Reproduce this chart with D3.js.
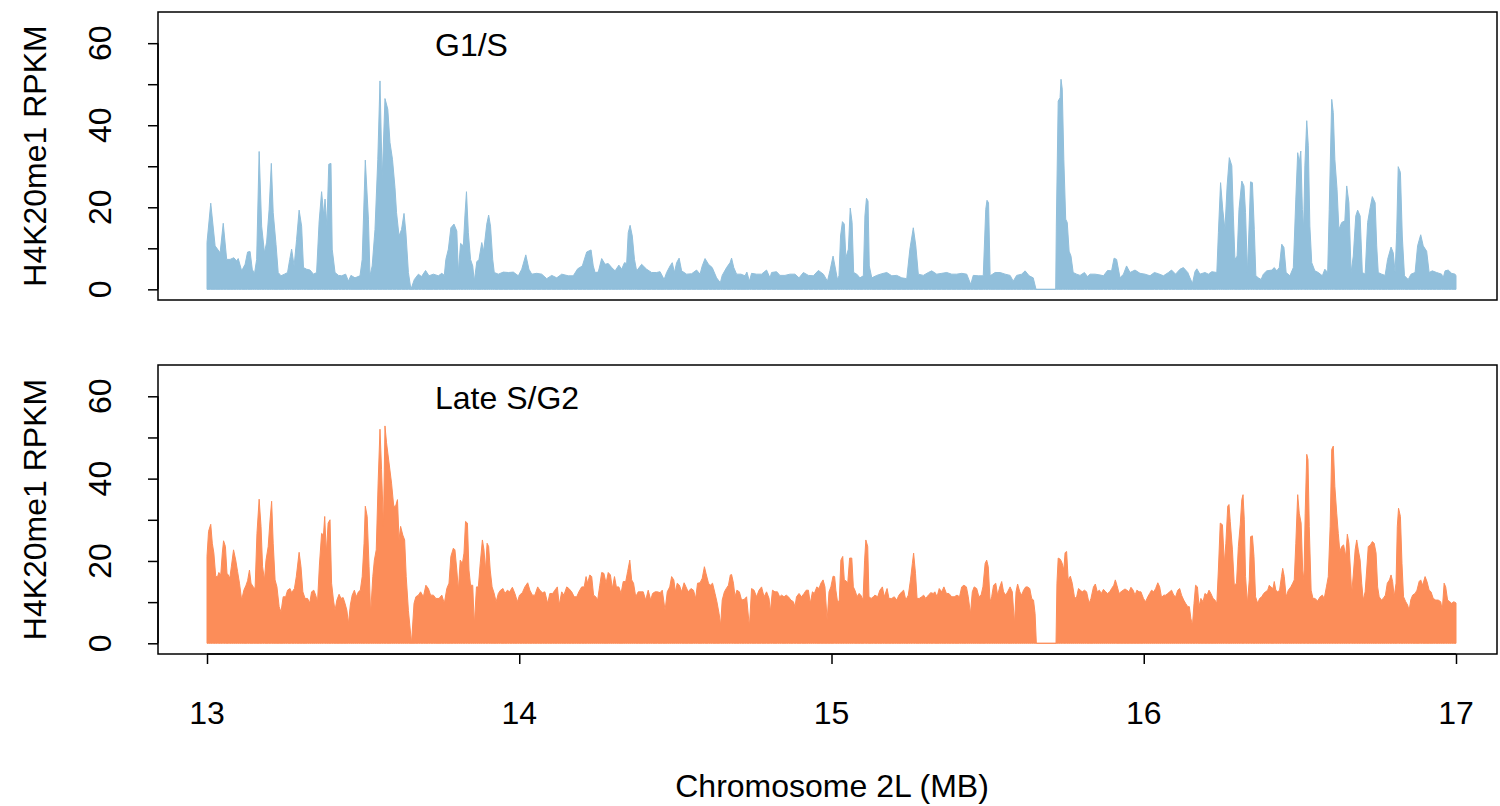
<!DOCTYPE html>
<html>
<head>
<meta charset="utf-8">
<script src="https://cdn.jsdelivr.net/npm/d3@7"></script>
<style>
  body { margin: 0; background: #fff; }
  svg text { font-family: "Liberation Sans", Arial, sans-serif; fill: #000; }
</style>
</head>
<body>
<div id="chart"></div>
<script>
// positions in MB, values in RPKM
const g1sPos = [13.000,13.012,13.026,13.042,13.052,13.063,13.074,13.086,13.095,13.100,13.111,13.122,13.130,13.138,13.145,13.152,13.159,13.167,13.175,13.184,13.191,13.199,13.206,13.212,13.221,13.228,13.237,13.248,13.258,13.265,13.271,13.279,13.287,13.295,13.303,13.309,13.319,13.330,13.341,13.351,13.359,13.367,13.374,13.378,13.384,13.390,13.397,13.401,13.410,13.421,13.431,13.444,13.453,13.461,13.474,13.490,13.497,13.507,13.517,13.522,13.529,13.538,13.547,13.554,13.561,13.570,13.579,13.586,13.594,13.602,13.607,13.615,13.623,13.631,13.637,13.645,13.653,
  13.664,13.677,13.687,13.700,13.711,13.725,13.741,13.752,13.760,13.765,13.773,13.781,13.791,13.800,13.805,13.812,13.821,13.826,13.831,13.837,13.844,13.851,13.856,13.864,13.871,13.880,13.886,13.896,13.902,13.908,13.915,13.920,13.933,13.949,13.965,13.981,13.997,14.008,14.021,14.031,14.040,14.056,14.072,14.088,14.104,14.120,14.136,14.157,14.173,14.187,14.202,14.216,14.230,14.237,14.243,14.253,14.264,14.275,14.285,14.296,14.307,
  14.319,14.328,14.337,14.344,14.349,14.355,14.362,14.369,14.376,14.392,14.408,14.424,14.440,14.451,14.464,14.472,14.483,14.490,14.497,14.504,14.512,14.520,14.536,14.552,14.568,14.579,14.586,14.595,14.606,14.618,14.632,14.644,14.650,14.664,14.675,14.680,14.687,14.696,14.710,14.723,14.729,14.737,14.744,14.760,14.776,14.792,14.803,14.808,14.824,14.835,14.851,14.867,14.883,14.896,14.910,14.926,14.942,14.958,14.974,14.987,14.995,
  15.005,15.011,15.019,15.024,15.029,15.035,15.041,15.046,15.054,15.060,15.066,15.071,15.081,15.091,15.102,15.107,15.112,15.117,15.121,15.129,15.145,15.161,15.177,15.193,15.209,15.225,15.241,15.251,15.262,15.270,15.278,15.294,15.310,15.321,15.337,15.353,15.369,15.385,15.401,15.417,15.433,15.446,15.454,15.470,15.486,15.494,15.498,15.503,15.508,15.524,15.540,15.556,15.572,15.582,15.593,15.609,15.620,15.633,15.646,15.655,15.718,
  15.720,15.726,15.732,15.735,15.739,15.744,15.750,15.755,15.761,15.767,15.774,15.785,15.796,15.810,15.820,15.828,15.844,15.860,15.871,15.884,15.897,15.905,15.913,15.924,15.935,15.945,15.956,15.972,15.988,16.004,16.020,16.034,16.047,16.063,16.079,16.089,16.102,16.116,16.127,16.141,16.148,16.156,16.164,16.170,16.180,16.196,16.207,16.218,16.234,16.239,16.246,16.253,16.260,16.267,16.274,16.282,16.287,16.292,16.299,16.305,16.314,16.321,16.326,16.332,16.338,
  16.342,16.348,16.354,16.359,16.367,16.376,16.383,16.394,16.410,16.418,16.426,16.434,16.442,16.449,16.456,16.468,16.479,16.487,16.493,16.498,16.503,16.508,16.512,16.516,16.522,16.527,16.532,16.538,16.548,16.559,16.572,16.580,16.589,16.594,16.602,16.607,16.612,16.619,16.625,16.634,16.644,16.650,16.657,16.664,16.671,16.679,16.685,16.693,16.700,16.709,16.717,16.725,16.732,16.741,16.746,16.751,16.762,16.773,16.781,16.792,16.799,16.805,16.810,16.815,16.822,16.828,16.835,16.847,16.856,16.869,16.877,16.887,16.895,16.906,16.914,16.924,16.938,16.954,16.959,16.965,16.975,16.986,16.997,17.000];
const g1sVal = [11.4,21.0,10.6,8.9,16.1,7.3,7.3,7.7,6.9,7.5,4.5,6.1,9.1,9.2,4.9,3.8,7.3,33.6,15.4,8.9,11.5,19.5,30.7,18.7,11.0,4.1,3.3,3.7,4.1,7.3,9.8,5.7,12.2,19.3,15.4,5.3,4.9,4.7,3.7,4.1,16.4,23.8,17.9,22.0,15.4,30.5,30.7,9.8,4.1,3.4,3.3,3.7,2.0,3.4,2.8,3.3,7.3,31.5,17.1,3.3,5.7,14.6,31.7,50.8,26.8,46.5,43.9,35.8,31.7,24.8,18.7,13.0,14.6,18.5,13.8,4.1,0,
  2.4,3.7,3.1,4.6,3.3,3.7,3.3,3.9,3.4,7.3,9.8,15.0,15.9,14.2,4.1,11.2,10.6,17.9,23.8,13.8,7.3,5.7,2.0,6.7,7.3,11.4,9.3,15.9,18.1,15.4,7.3,4.1,3.7,4.2,4.1,4.2,3.3,4.9,8.4,4.9,3.7,3.9,3.7,2.6,3.4,2.8,3.7,3.3,3.3,5.0,5.7,9.1,9.6,5.7,4.1,4.2,7.5,6.1,6.3,5.3,4.5,
  5.9,4.9,6.5,6.3,13.8,15.6,13.0,7.3,4.5,6.1,4.9,4.1,4.1,4.3,2.4,4.1,5.7,6.5,4.1,6.5,7.6,4.5,3.7,3.8,4.7,3.7,5.7,7.5,6.1,5.3,2.8,1.6,3.4,5.3,6.5,7.6,5.3,3.7,3.7,3.3,4.2,2.0,3.9,3.7,3.7,4.7,2.8,4.1,4.3,3.4,3.4,3.7,3.7,2.8,4.1,3.4,3.3,4.6,3.7,2.0,4.5,
  8.1,5.7,2.4,3.3,13.0,16.5,15.9,7.7,9.8,19.8,16.3,4.1,3.7,2.8,3.3,17.9,22.2,21.5,5.7,2.8,3.4,3.8,4.1,3.3,3.4,2.8,2.6,9.8,15.0,10.6,3.7,3.4,4.1,4.5,3.7,3.9,4.1,3.7,3.7,3.9,3.7,1.2,3.4,3.3,3.3,19.5,21.7,21.1,3.3,4.1,4.1,3.7,3.4,2.0,3.4,3.7,4.5,3.3,2.8,0,0,
  15.4,45.9,46.7,51.2,48.8,31.7,17.1,16.3,9.3,8.1,4.1,3.7,3.4,4.1,3.1,3.7,3.7,3.5,3.3,4.6,4.5,7.6,7.3,2.8,3.7,5.7,4.1,4.7,3.9,3.7,3.3,4.1,3.8,3.3,4.1,4.7,3.7,4.9,5.3,4.1,2.8,1.4,4.3,5.0,3.7,4.1,3.7,4.3,4.1,13.8,26.0,19.5,14.6,25.2,32.1,30.1,17.9,7.3,8.1,19.5,26.4,25.2,18.7,4.1,16.7,
  26.2,26.0,14.6,3.3,2.8,2.4,3.7,4.5,4.7,5.3,4.5,5.3,11.0,10.2,4.1,3.3,5.3,22.0,33.3,30.9,33.7,19.5,14.6,30.1,41.1,35.0,15.4,6.5,4.5,4.1,3.3,4.9,4.1,19.5,46.3,43.1,31.7,24.4,14.6,16.3,16.7,25.2,21.1,4.1,8.1,17.9,19.3,17.9,4.1,3.7,16.3,19.9,22.6,21.1,10.6,4.1,3.7,3.4,7.3,10.3,8.9,4.1,13.8,29.9,28.5,13.0,3.3,2.4,3.7,4.1,10.6,13.3,10.6,9.3,4.1,4.5,4.1,3.7,2.8,4.5,4.7,3.9,3.7,3.3];

const lateG2Pos = [13.000,13.005,13.012,13.017,13.022,13.028,13.034,13.038,13.044,13.049,13.053,13.059,13.064,13.068,13.073,13.078,13.085,13.092,13.098,13.104,13.111,13.118,13.125,13.130,13.136,13.141,13.148,13.154,13.160,13.167,13.173,13.178,13.184,13.189,13.196,13.202,13.207,13.212,13.218,13.224,13.231,13.237,13.244,13.252,13.258,13.266,13.271,13.280,13.286,13.295,13.301,13.307,13.314,13.322,13.329,13.335,13.342,13.348,13.354,13.360,13.367,13.373,13.377,13.382,13.388,13.394,13.399,13.405,13.410,13.416,13.423,13.429,13.436,13.442,13.448,13.453,13.459,13.465,13.472,13.478,13.485,13.491,13.497,13.503,13.507,13.513,13.519,13.524,13.531,13.536,13.542,13.548,13.554,13.559,13.565,13.570,13.575,13.583,13.591,13.598,13.604,13.610,13.615,13.620,13.627,13.633,13.638,13.645,13.655,
  13.663,13.669,13.677,13.684,13.693,13.701,13.709,13.716,13.725,13.733,13.743,13.752,13.760,13.768,13.775,13.781,13.789,13.794,13.800,13.805,13.811,13.818,13.823,13.828,13.834,13.839,13.844,13.851,13.856,13.863,13.869,13.875,13.882,13.887,13.892,13.897,13.902,13.907,13.913,13.919,13.926,13.933,13.940,13.948,13.954,13.962,13.969,13.978,13.986,13.994,14.001,14.010,14.018,14.027,14.034,14.042,14.050,14.059,14.066,14.074,14.082,14.091,14.098,14.107,14.114,14.122,14.128,14.136,14.143,14.152,14.159,14.168,14.176,14.184,14.191,14.200,14.208,14.214,14.219,14.226,14.232,14.238,14.245,14.251,14.258,14.264,14.271,14.278,14.285,14.292,14.298,14.305,14.311,
  14.319,14.326,14.333,14.341,14.347,14.354,14.360,14.366,14.373,14.381,14.390,14.397,14.405,14.413,14.421,14.427,14.435,14.443,14.451,14.458,14.467,14.474,14.482,14.488,14.495,14.500,14.506,14.513,14.520,14.528,14.534,14.541,14.550,14.558,14.565,14.571,14.579,14.586,14.593,14.598,14.606,14.612,14.619,14.627,14.633,14.640,14.645,14.650,14.657,14.663,14.670,14.676,14.680,14.686,14.691,14.697,14.705,14.712,14.721,14.728,14.737,14.744,14.752,14.760,14.768,14.776,14.784,14.792,14.800,14.804,14.811,14.819,14.827,14.834,14.840,14.848,14.855,14.862,14.870,14.878,14.883,14.888,14.896,14.904,14.912,14.919,14.926,14.932,14.939,14.945,14.953,14.960,14.966,14.973,14.979,14.986,
  14.992,14.998,15.005,15.010,15.014,15.020,15.025,15.030,15.036,15.041,15.046,15.052,15.058,15.065,15.070,15.075,15.082,15.088,15.094,15.101,15.106,15.110,15.116,15.120,15.127,15.134,15.139,15.148,15.155,15.163,15.169,15.178,15.184,15.193,15.201,15.209,15.216,15.225,15.231,15.238,15.246,15.253,15.259,15.263,15.269,15.274,15.281,15.289,15.295,15.302,15.310,15.318,15.326,15.331,15.338,15.345,15.353,15.360,15.368,15.376,15.385,15.393,15.402,15.410,15.417,15.424,15.432,15.438,15.445,15.451,15.457,15.465,15.472,15.479,15.485,15.492,15.497,15.502,15.508,15.513,15.519,15.526,15.532,15.539,15.545,15.551,15.558,15.564,15.572,15.579,15.586,15.591,15.596,15.603,15.609,15.615,15.622,15.628,15.635,15.641,15.647,15.652,15.656,15.719,
  15.722,15.726,15.733,15.739,15.744,15.748,15.753,15.758,15.765,15.771,15.778,15.784,15.791,15.797,15.803,15.810,15.817,15.825,15.831,15.839,15.845,15.851,15.858,15.864,15.871,15.878,15.884,15.891,15.897,15.904,15.909,15.914,15.921,15.927,15.934,15.940,15.946,15.953,15.959,15.966,15.972,15.978,15.985,15.991,15.999,16.006,16.013,16.019,16.025,16.032,16.038,16.045,16.051,16.057,16.064,16.070,16.077,16.083,16.089,16.096,16.102,16.109,16.115,16.121,16.128,16.134,16.141,16.146,16.151,16.156,16.161,16.166,16.172,16.177,16.183,16.190,16.196,16.203,16.209,16.215,16.222,16.228,16.234,16.239,16.245,16.252,16.258,16.263,16.269,16.273,16.277,16.284,16.290,16.297,16.303,16.309,16.314,16.318,16.322,16.326,16.332,16.338,
  16.342,16.348,16.353,16.358,16.365,16.371,16.378,16.384,16.390,16.397,16.402,16.407,16.414,16.418,16.423,16.429,16.435,16.441,16.445,16.450,16.456,16.463,16.471,16.477,16.482,16.487,16.493,16.498,16.504,16.509,16.513,16.517,16.522,16.526,16.530,16.536,16.542,16.548,16.557,16.565,16.572,16.578,16.585,16.591,16.597,16.602,16.607,16.612,16.618,16.623,16.628,16.634,16.640,16.647,16.652,16.657,16.662,16.666,16.671,16.677,16.682,16.687,16.693,16.698,16.703,16.709,16.714,16.719,16.726,16.732,16.738,16.744,16.749,16.754,16.761,16.767,16.774,16.780,16.787,16.792,16.797,16.802,16.808,16.812,16.816,16.822,16.827,16.832,16.839,16.845,16.850,16.855,16.861,16.869,16.875,16.882,16.887,16.893,16.901,16.907,16.914,16.920,16.927,16.935,16.943,16.951,16.956,16.962,16.967,16.973,16.980,16.986,16.993,17.000];
const lateG2Val = [21.1,27.2,28.9,24.3,21.9,16.2,16.2,17.2,16.6,21.9,24.9,23.5,17.0,16.6,15.8,18.6,22.7,20.2,17.4,14.6,10.5,12.9,14.1,15.2,17.8,14.6,13.7,13.3,26.7,35.0,28.4,18.6,15.4,20.2,23.5,30.0,34.5,24.3,15.4,13.7,8.9,7.6,11.3,11.3,12.9,13.3,12.3,13.3,16.2,22.1,18.6,12.5,10.9,10.9,9.8,12.5,12.9,11.7,10.1,19.0,26.7,26.3,30.8,21.9,29.2,30.0,14.6,10.5,8.0,10.5,11.9,10.9,11.1,9.7,8.0,4.8,9.3,11.7,12.9,11.3,12.5,12.9,16.2,24.3,33.3,30.8,18.6,7.2,16.2,20.2,22.7,38.9,52.0,42.2,28.4,52.8,48.7,43.8,38.9,33.3,33.3,34.9,25.1,28.4,26.3,25.1,16.2,8.0,0,
  9.7,11.3,11.7,12.5,11.3,14.1,13.3,11.7,11.7,10.9,10.9,11.7,9.7,13.3,14.6,21.1,23.1,22.7,17.8,12.9,20.2,19.4,21.9,29.6,29.2,17.8,14.1,14.1,4.4,13.7,13.7,19.4,25.1,22.7,17.8,24.3,23.5,17.8,13.7,12.3,10.1,12.1,12.9,13.3,12.1,12.9,12.5,13.6,12.1,10.1,11.7,12.3,13.7,14.7,12.9,11.7,11.7,13.7,12.9,12.3,12.5,9.7,12.1,12.1,12.9,13.7,9.3,12.5,11.7,13.7,13.3,12.5,11.3,11.3,12.5,13.7,13.7,16.2,14.6,16.6,16.2,11.7,11.3,10.5,14.1,17.2,17.0,14.6,17.2,16.6,13.3,16.2,13.7,
  13.7,12.1,15.0,15.0,17.4,20.2,15.4,14.6,11.3,12.5,12.5,12.5,10.5,12.9,10.5,12.1,12.5,12.5,12.3,12.9,8.0,12.5,13.7,16.2,15.4,12.5,14.6,14.1,12.5,14.7,13.7,12.5,13.3,12.9,10.9,14.6,14.7,15.8,18.6,17.0,14.6,14.1,14.6,12.1,10.1,7.2,4.4,10.5,12.5,13.3,14.1,16.6,16.7,14.6,11.3,12.9,12.5,10.5,10.7,11.3,4.0,13.3,12.9,11.3,12.9,13.7,11.3,12.5,10.9,7.6,12.9,12.5,12.5,11.3,11.7,11.3,11.7,11.3,10.5,10.1,8.9,11.3,12.1,11.3,12.1,12.9,12.9,9.7,12.5,12.1,13.7,13.3,14.6,15.4,13.7,5.6,
  12.5,13.7,16.3,16.2,12.9,9.7,10.5,20.2,21.1,15.4,15.2,14.6,20.7,20.7,13.7,12.9,11.3,12.1,11.7,10.5,20.2,25.1,23.5,11.3,10.9,11.3,11.7,11.3,12.9,13.7,11.3,13.3,10.9,10.9,11.3,10.5,11.7,12.5,12.9,10.5,11.7,15.4,19.4,21.9,17.0,10.9,10.9,11.3,11.7,10.9,11.7,12.3,12.1,12.5,11.3,13.3,12.5,13.7,12.1,12.1,11.3,11.3,11.7,11.3,13.7,14.1,13.7,11.3,7.2,12.5,13.7,13.3,11.3,11.7,13.7,19.4,20.2,18.6,10.1,11.3,14.1,14.6,11.7,13.7,15.0,12.5,11.7,12.5,13.7,12.5,4.8,12.5,14.4,12.5,11.7,12.9,13.7,13.7,13.3,10.9,10.5,7.2,0,0,
  14.6,20.7,20.4,19.4,17.8,22.0,22.3,15.4,16.3,14.6,11.3,10.9,13.3,12.9,12.5,12.9,12.5,9.7,10.9,13.7,14.4,12.5,12.9,12.1,13.1,12.5,12.1,12.5,13.3,14.1,15.4,14.1,12.1,12.5,12.9,13.2,12.9,12.5,13.6,12.9,11.7,12.9,12.5,12.5,10.9,10.1,11.3,12.1,12.9,12.5,13.3,14.7,13.7,11.1,11.7,11.7,12.1,12.5,12.9,11.7,11.3,12.9,13.3,11.7,10.5,9.7,8.9,8.9,6.0,4.4,9.7,14.1,13.7,8.9,10.9,10.1,12.1,11.7,12.9,12.1,10.9,10.5,9.7,17.8,29.2,28.8,19.4,24.3,33.3,33.7,29.6,22.7,14.1,14.6,23.5,28.8,34.9,36.1,30.0,16.2,9.7,15.4,
  25.9,26.1,21.1,11.3,9.7,10.9,11.3,12.1,12.5,12.9,14.1,13.7,13.3,15.0,12.9,12.5,12.9,16.2,18.2,16.2,11.3,12.9,13.7,14.6,15.4,24.3,36.1,31.6,29.2,17.8,15.4,31.6,45.9,44.6,28.4,12.9,10.9,10.9,10.3,11.3,11.7,10.9,13.7,16.2,28.4,47.1,47.9,38.1,31.6,26.7,22.3,23.5,23.9,21.1,26.5,24.3,17.8,12.1,16.6,22.7,25.1,22.7,20.2,14.6,10.5,12.5,17.8,23.5,23.9,24.7,24.3,21.9,13.7,11.3,10.5,10.9,11.7,14.6,15.4,16.6,15.0,11.3,14.6,28.4,32.8,30.8,19.4,11.3,10.1,9.3,8.0,10.5,11.7,12.1,12.9,15.0,15.4,14.1,16.2,15.0,12.9,12.5,10.9,10.5,10.5,10.1,8.0,14.6,13.7,10.5,10.1,9.7,10.1,9.8];

const panelNames = ["G1/S", "Late S/G2"];
const panelColors = ["#91BFDB", "#FC8D59"];
const xTicks = [13, 14, 15, 16, 17];
const yTicks = [0, 10, 20, 30, 40, 50, 60];
const yLabels = [0, 20, 40, 60];

const width = 1500;
const height = 806;
const fontSize = 32;

const svg = d3.select("#chart")
  .append("svg")
  .attr("width", width)
  .attr("height", height);

const x = d3.scaleLinear().domain([13, 17]).range([207, 1456]);
const boxLeft = 158, boxRight = 1497;

// panel frames: ylim 0..65 plus the usual 4% padding
const panels = [
  { top: 12, bottom: 300, pos: g1sPos, val: g1sVal },
  { top: 365, bottom: 654, pos: lateG2Pos, val: lateG2Val }
];

panels.forEach((p, i) => {
  const y = d3.scaleLinear().domain([-2.6, 67.6]).range([p.bottom, p.top]);
  const g = svg.append("g");

  const data = p.pos.map((d, k) => [d, p.val[k]]);
  const area = d3.area()
    .x(d => x(d[0]))
    .y0(y(0))
    .y1(d => y(d[1]));

  g.append("path")
    .datum(data)
    .attr("d", area)
    .attr("fill", panelColors[i])
    .attr("stroke", panelColors[i])
    .attr("stroke-width", 1);

  g.append("rect")
    .attr("x", boxLeft)
    .attr("y", p.top)
    .attr("width", boxRight - boxLeft)
    .attr("height", p.bottom - p.top)
    .attr("fill", "none")
    .attr("stroke", "#000")
    .attr("stroke-width", 1.5);

  // y axis: ticks every 10, labels every 20, R style rotated labels
  const yAxis = g.append("g")
    .attr("transform", `translate(${boxLeft},0)`)
    .call(d3.axisLeft(y).tickValues(yTicks).tickSize(10).tickFormat(""));
  yAxis.select(".domain")
    .attr("stroke-width", 1.5)
    .attr("d", `M0,${y(0)}V${y(60)}`);
  yAxis.selectAll(".tick line").attr("stroke-width", 1.5);

  g.selectAll(".ylab")
    .data(yLabels)
    .enter()
    .append("text")
    .attr("class", "ylab")
    .attr("transform", d => `translate(111,${y(d)}) rotate(-90)`)
    .attr("text-anchor", "middle")
    .attr("font-size", fontSize)
    .text(d => d);

  g.append("text")
    .attr("transform", `translate(46,${(p.top + p.bottom) / 2}) rotate(-90)`)
    .attr("text-anchor", "middle")
    .attr("font-size", fontSize)
    .text("H4K20me1 RPKM");

  g.append("text")
    .attr("x", 435)
    .attr("y", p.top + 44)
    .attr("font-size", fontSize)
    .text(panelNames[i]);
});

// x axis under the lower panel
const xAxis = svg.append("g")
  .attr("transform", "translate(0,654)")
  .call(d3.axisBottom(x).tickValues(xTicks).tickSize(10).tickFormat(""));
xAxis.select(".domain").attr("d", `M${x(13)},0H${x(17)}`).attr("stroke-width", 1.5);
xAxis.selectAll(".tick line").attr("stroke-width", 1.5);

svg.selectAll(".xlab")
  .data(xTicks)
  .enter()
  .append("text")
  .attr("class", "xlab")
  .attr("x", d => x(d))
  .attr("y", 724)
  .attr("text-anchor", "middle")
  .attr("font-size", fontSize)
  .text(d => d);

svg.append("text")
  .attr("x", 832)
  .attr("y", 797)
  .attr("text-anchor", "middle")
  .attr("font-size", fontSize)
  .text("Chromosome 2L (MB)");
</script>
</body>
</html>
